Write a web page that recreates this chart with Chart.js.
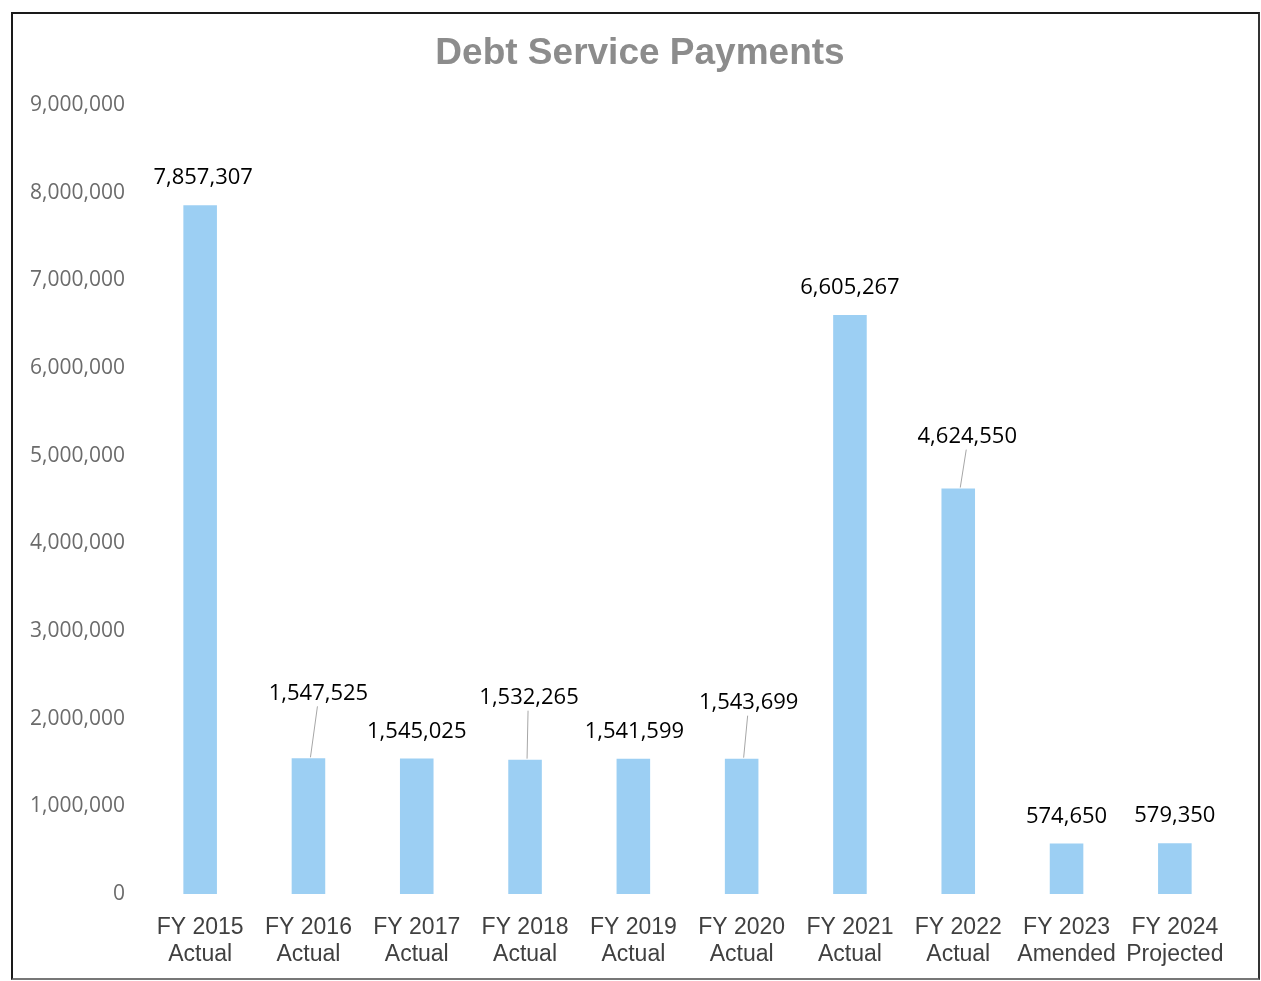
<!DOCTYPE html>
<html>
<head>
<meta charset="utf-8">
<title>Debt Service Payments</title>
<script src="https://cdn.jsdelivr.net/npm/chart.js@4.4.1/dist/chart.umd.min.js"></script>
<style>
  html, body { margin: 0; padding: 0; background: #fff; }
  #wrap { position: relative; width: 1261px; height: 981px; overflow: hidden; }
  #frame {
    position: absolute; left: 11px; top: 12px; width: 1245px; height: 964px;
    border-top: 2px solid #1a1a1a; border-left: 2px solid #1a1a1a;
    border-right: 2px solid #333; border-bottom: 2px solid #777;
    pointer-events: none;
  }
</style>
</head>
<body>
<div id="wrap">
  <canvas id="debtChart" width="1261" height="981"></canvas>
  <div id="frame"></div>
</div>
<script>
const chartTitle = 'Debt Service Payments';
const fiscalYears = ['FY 2015', 'FY 2016', 'FY 2017', 'FY 2018', 'FY 2019',
                     'FY 2020', 'FY 2021', 'FY 2022', 'FY 2023', 'FY 2024'];
const budgetStatus = ['Actual', 'Actual', 'Actual', 'Actual', 'Actual',
                      'Actual', 'Actual', 'Actual', 'Amended', 'Projected'];
const payments = [7857307, 1547525, 1545025, 1532265, 1541599,
                  1543699, 6605267, 4624550, 574650, 579350];
const yTicks = [0, 1000000, 2000000, 3000000, 4000000,
                5000000, 6000000, 7000000, 8000000, 9000000];

const fmt = v => v.toLocaleString('en-US');

// title drawn by hand so it sits over the page centre, not the plot
const pageTitle = {
  id: 'pageTitle',
  afterDraw(chart, args, opts) {
    const { ctx } = chart;
    ctx.save();
    ctx.fillStyle = '#8c8c8c';
    ctx.font = 'bold 37px "Liberation Sans", Arial';
    ctx.textAlign = 'center';
    ctx.textBaseline = 'middle';
    ctx.fillText(opts.text, opts.x, opts.y);
    ctx.restore();
  }
};

// value labels, some pulled up with a thin leader line back to the bar
const valueLabels = {
  id: 'valueLabels',
  afterDatasetsDraw(chart, args, opts) {
    const { ctx } = chart;
    const meta = chart.getDatasetMeta(0);
    const values = chart.data.datasets[0].data;
    ctx.save();
    meta.data.forEach((bar, i) => {
      const [dx, dy, leader] = opts.nudge[i];
      const lx = bar.x + dx;
      const ly = bar.y + dy;
      if (leader) {
        ctx.strokeStyle = '#a6a6a6';
        ctx.lineWidth = 1;
        ctx.beginPath();
        ctx.moveTo(lx - 1, ly + 13);
        ctx.lineTo(bar.x + 2, bar.y - 1);
        ctx.stroke();
      }
      ctx.fillStyle = '#000';
      ctx.font = '22px "Open Sans"';
      ctx.textAlign = 'center';
      ctx.textBaseline = 'middle';
      ctx.fillText(fmt(values[i]), lx, ly);
    });
    ctx.restore();
  }
};

new Chart(document.getElementById('debtChart'), {
  type: 'bar',
  data: {
    labels: fiscalYears.map((fy, i) => [fy, budgetStatus[i]]),
    datasets: [{
      data: payments,
      backgroundColor: '#9ccff3',
      borderWidth: 0,
      barPercentage: 0.62,
      categoryPercentage: 0.5
    }]
  },
  options: {
    responsive: false,
    animation: false,
    layout: { padding: { left: 0, right: 32, top: 105, bottom: 0 } },
    plugins: {
      legend: { display: false },
      tooltip: { enabled: false },
      title: { display: false },
      pageTitle: { text: chartTitle, x: 640, y: 54 },
      valueLabels: {
        nudge: [[3, -27, false], [10, -65, true], [0, -27, false], [4, -62, true],
                [1, -27, false], [7, -56, true], [0, -27, false], [9, -52, true],
                [0, -27, false], [0, -27, false]]
      }
    },
    scales: {
      x: {
        grid: { display: false, drawTicks: false },
        border: { display: false },
        ticks: {
          color: '#404040',
          padding: 20,
          maxRotation: 0,
          autoSkip: false,
          font: { family: '"Liberation Sans", Arial', size: 23, lineHeight: 1.18 }
        },
        afterFit: s => { s.height = 87; }
      },
      y: {
        min: 0,
        max: 9000000,
        afterBuildTicks: s => { s.ticks = yTicks.map(v => ({ value: v })); },
        grid: { display: false, drawTicks: false },
        border: { display: false },
        ticks: {
          color: '#6b6b6b',
          padding: 21,
          font: { family: '"Open Sans"', size: 21 },
          callback: v => fmt(v)
        },
        afterFit: s => { s.width = 146; }
      }
    }
  },
  plugins: [valueLabels, pageTitle]
});
</script>
</body>
</html>
